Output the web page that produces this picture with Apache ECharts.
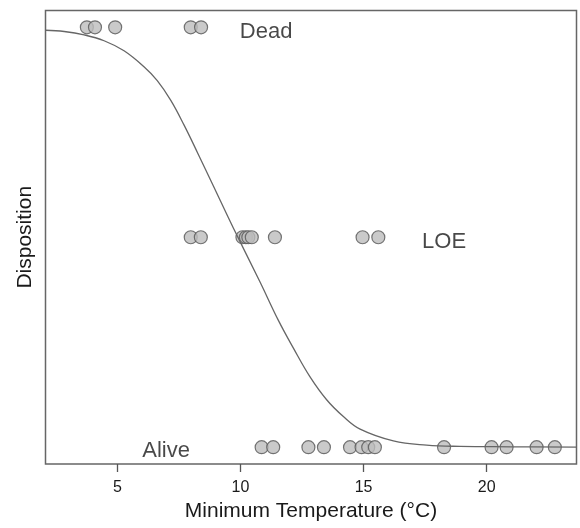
<!DOCTYPE html>
<html>
<head>
<meta charset="utf-8">
<script src="https://cdn.jsdelivr.net/npm/echarts@6/dist/echarts.min.js"></script>
<style>
  html, body { margin: 0; padding: 0; background: #fff; }
  #chart { width: 580px; height: 528px; }
</style>
</head>
<body>
<div id="chart"></div>
<script>
// Disposition scale: Alive = 0, LOE = 0.5, Dead = 1
const deadTemps  = [3.76, 4.09, 4.91, 7.98, 8.40];
const loeTemps   = [7.98, 8.39, 10.08, 10.22, 10.32, 10.46, 11.40, 14.96, 15.60];
const aliveTemps = [10.86, 11.33, 12.76, 13.39, 14.45, 14.92, 15.19, 15.46, 18.27, 20.20, 20.81, 22.03, 22.77];

const levelDead = 1, levelLOE = 0.5, levelAlive = 0;

// Fitted response curve (temperature, disposition)
const curveTemps = [2.08, 2.84, 3.65, 4.46, 5.27, 6.08, 6.62, 7.17, 7.71, 8.25, 8.90, 9.71,
                    10.79, 11.54, 12.15, 12.82, 13.50, 14.18, 14.86, 16.21, 17.56, 18.92, 21.00, 23.65];
const curveVals  = [0.993, 0.990, 0.982, 0.968, 0.944, 0.906, 0.873, 0.826, 0.767, 0.702, 0.622, 0.522,
                    0.394, 0.302, 0.236, 0.168, 0.113, 0.073, 0.043, 0.015, 0.005, 0.002, 0.001, 0.0];

// Category labels inside the plot
const labelNames = ['Dead', 'LOE', 'Alive'];
const labelX = [11.04, 18.27, 6.98];
const labelY = [0.99, 0.49, -0.01];

const xTicks = [5, 10, 15, 20];

const pointStyle = { color: '#bdbdbd', borderColor: '#555', borderWidth: 1.2 };
const pts = (xs, y) => xs.map(x => [x, y]);

const chart = echarts.init(document.getElementById('chart'), null, { renderer: 'canvas' });
chart.setOption({
  animation: false,
  backgroundColor: '#fff',
  textStyle: { fontFamily: 'Liberation Sans, Arial, sans-serif' },
  grid: {
    left: 45.5, right: 3.5, top: 10.5, bottom: 64,
    show: true, borderColor: '#666', borderWidth: 1.5, backgroundColor: 'transparent'
  },
  xAxis: {
    type: 'value', min: 2.08, max: 23.65,
    name: 'Minimum Temperature (°C)', nameLocation: 'middle', nameGap: 37,
    nameTextStyle: { fontSize: 21, color: '#1a1a1a' },
    axisLine: { show: false, onZero: false },
    splitLine: { show: false },
    axisTick: { show: true, inside: false, length: 8, customValues: xTicks,
                lineStyle: { color: '#555', width: 1.3 } },
    axisLabel: { show: true, customValues: xTicks, fontSize: 16, color: '#1a1a1a', margin: 16 }
  },
  yAxis: {
    type: 'value', min: -0.04, max: 1.04,
    name: 'Disposition', nameLocation: 'middle', nameGap: 10,
    nameTextStyle: { fontSize: 21, color: '#1a1a1a' },
    axisLine: { show: false, onZero: false }, axisTick: { show: false },
    axisLabel: { show: false }, splitLine: { show: false }
  },
  series: [
    { type: 'scatter', data: pts(deadTemps, levelDead), symbolSize: 13, itemStyle: pointStyle, z: 2 },
    { type: 'scatter', data: pts(loeTemps, levelLOE), symbolSize: 13, itemStyle: pointStyle, z: 2 },
    { type: 'scatter', data: pts(aliveTemps, levelAlive), symbolSize: 13, itemStyle: pointStyle, z: 2 },
    {
      type: 'line', data: curveTemps.map((x, i) => [x, curveVals[i]]),
      showSymbol: false, smooth: 0.4, z: 3,
      lineStyle: { color: '#666', width: 1.3 }
    },
    {
      type: 'scatter', symbolSize: 0, z: 4,
      data: labelNames.map((n, i) => ({ value: [labelX[i], labelY[i]], name: n })),
      label: { show: true, position: 'inside', formatter: p => p.name, fontSize: 22, color: '#1a1a1a' }
    }
  ]
});
</script>
</body>
</html>
